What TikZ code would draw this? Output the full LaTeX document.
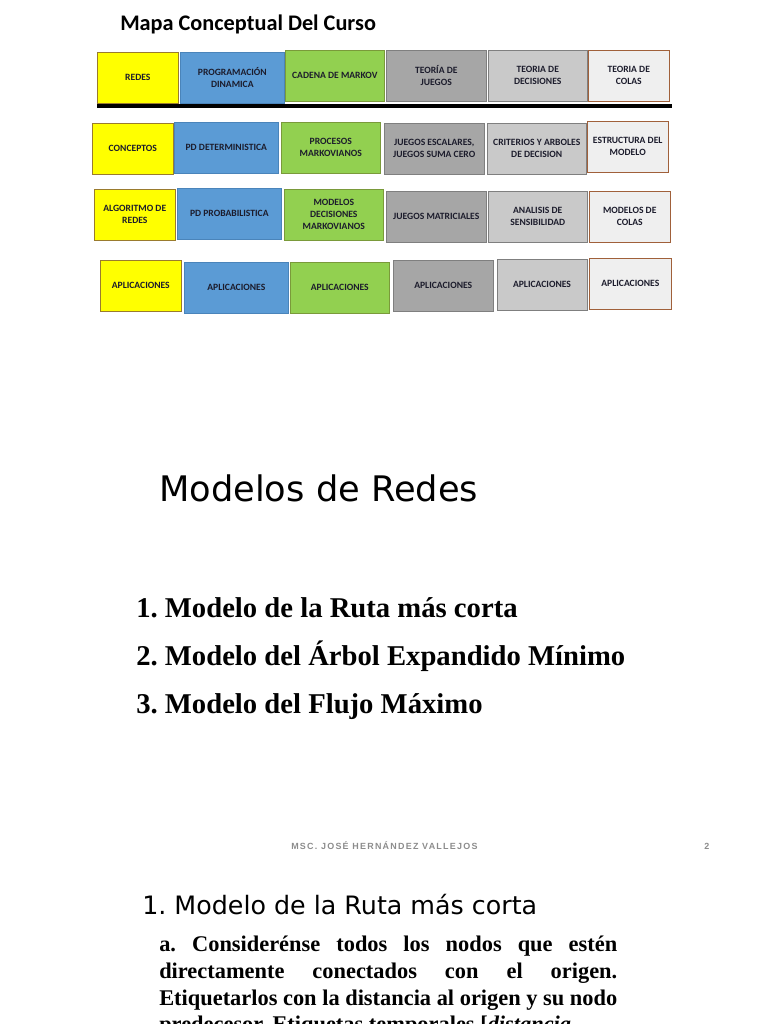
\documentclass[tikz,border=0pt]{standalone}
\usepackage{fontspec}
\usepackage{xcolor}
\usepackage{tikz}
\usetikzlibrary{positioning}
\newfontfamily\fcalibri{Carlito}
\newfontfamily\fdejavu{DejaVu Sans}
\newfontfamily\fserif{Liberation Serif}
\newfontfamily\fpie[LetterSpace=14]{Liberation Sans}
\definecolor{cmamarillo}{HTML}{FFFF00}
\definecolor{cmazul}{HTML}{5B9BD5}
\definecolor{cmverde}{HTML}{92D050}
\definecolor{cmgris}{HTML}{A6A6A6}
\definecolor{cmgrisclaro}{HTML}{C9C9C9}
\definecolor{cmblanco}{HTML}{EFEFEF}
\definecolor{cmbamarillo}{HTML}{9A7B2E}
\definecolor{cmbazul}{HTML}{4A84BA}
\definecolor{cmbverde}{HTML}{7A9A3A}
\definecolor{cmbgris}{HTML}{7F7F7F}
\definecolor{cmmarron}{HTML}{A0603A}
\definecolor{cmtexto}{HTML}{1C1C2C}
\definecolor{cmpie}{HTML}{8C8C8C}
\frenchspacing

\begin{document}
\begin{tikzpicture}[
  x=0.75pt, y=-0.75pt,
  celda/.style={
    rectangle, fill=#1, minimum height=38.5pt, inner sep=2pt, outer sep=0pt,
    line width=0.6pt, align=center, text=cmtexto,
    font=\fcalibri\bfseries\fontsize{7.2}{9}\selectfont
  },
  colredes/.style={celda=cmamarillo, draw=cmbamarillo, minimum width=61.2pt},
  colpd/.style={celda=cmazul, draw=cmbazul, minimum width=77.6pt},
  colmarkov/.style={celda=cmverde, draw=cmbverde, minimum width=74.6pt},
  coljuegos/.style={celda=cmgris, draw=cmbgris, minimum width=74.6pt},
  coldecision/.style={celda=cmgrisclaro, draw=cmbgris, minimum width=74.6pt},
  colcolas/.style={celda=cmblanco, draw=cmmarron, minimum width=60.4pt},
  regla/.style={line width=3pt, black},
  listado/.style={anchor=base west, inner sep=0pt, font=\fserif\bfseries\fontsize{21.5}{25}\selectfont},
]
\useasboundingbox (0,0) rectangle (768,1024);
\clip (0,0) rectangle (768,1024);

% Titulo
\node[anchor=base west, inner sep=0pt, font=\fcalibri\bfseries\fontsize{16.7}{20}\selectfont]
  (titulo) at (120,31) {Mapa Conceptual Del Curso};

% Fila 1: areas del curso
\node[colredes, anchor=north west] (redes) at (97,52) {REDES};
\node[colpd, right=1.5pt of redes] (progdin) {PROGRAMACIÓN\\DINAMICA};
\node[colmarkov, right=0.75pt of progdin, yshift=1.5pt] (markov) {CADENA DE MARKOV};
\node[coljuegos, right=1.5pt of markov] (juegos) {TEORÍA DE\\JUEGOS};
\node[coldecision, right=1.5pt of juegos] (decisiones) {TEORIA DE\\DECISIONES};
\node[colcolas, right=0.75pt of decisiones] (colas) {TEORIA DE\\COLAS};

\draw[regla] (97,105.5) -- (672,105.5);

% Fila 2
\node[colredes, anchor=north west] (conceptos) at (92,123) {CONCEPTOS};
\node[colpd, right=0.75pt of conceptos, yshift=0.75pt] (pddet) {PD DETERMINISTICA};
\node[colmarkov, right=2.25pt of pddet] (procesos) {PROCESOS\\MARKOVIANOS};
\node[coljuegos, right=3pt of procesos, yshift=-0.75pt] (escalares) {JUEGOS ESCALARES,\\JUEGOS SUMA CERO};
\node[coldecision, right=2.25pt of escalares] (criterios) {CRITERIOS Y ARBOLES\\DE DECISION};
\node[colcolas, right=0.75pt of criterios, yshift=1.5pt] (estructura) {ESTRUCTURA DEL\\MODELO};

% Fila 3
\node[colredes, anchor=north west] (algoritmo) at (94,189) {ALGORITMO DE\\REDES};
\node[colpd, right=1.5pt of algoritmo, yshift=0.75pt] (pdprob) {PD PROBABILISTICA};
\node[colmarkov, right=2.25pt of pdprob, yshift=-0.75pt] (decmarkov) {MODELOS\\DECISIONES\\MARKOVIANOS};
\node[coljuegos, right=2.25pt of decmarkov, yshift=-1.5pt] (matriciales) {JUEGOS MATRICIALES};
\node[coldecision, right=1.5pt of matriciales] (sensibilidad) {ANALISIS DE\\SENSIBILIDAD};
\node[colcolas, right=1.5pt of sensibilidad] (modcolas) {MODELOS DE\\COLAS};

% Fila 4: aplicaciones
\node[colredes, anchor=north west] (aplredes) at (100,260) {APLICACIONES};
\node[colpd, right=2.25pt of aplredes, yshift=-1.5pt] (aplpd) {APLICACIONES};
\node[colmarkov, right=1.5pt of aplpd] (aplmarkov) {APLICACIONES};
\node[coljuegos, right=3pt of aplmarkov, yshift=1.5pt] (apljuegos) {APLICACIONES};
\node[coldecision, minimum width=67.5pt, right=3pt of apljuegos, yshift=0.75pt] (apldecision) {APLICACIONES};
\node[colcolas, minimum width=62pt, right=1.5pt of apldecision, yshift=0.75pt] (aplcolas) {APLICACIONES};

% Modelos de redes
\node[anchor=base west, inner sep=0pt, font=\fdejavu\fontsize{26.4}{31}\selectfont]
  (modelos) at (159,501) {Modelos de Redes};
\node[listado] (ruta) at (136,617) {1. Modelo de la Ruta más corta};
\node[listado] (arbol) at (136,665) {2. Modelo del Árbol Expandido Mínimo};
\node[listado] (flujo) at (136,713) {3. Modelo del Flujo Máximo};

% Pie de pagina
\node[anchor=base west, inner sep=0pt, text=cmpie, font=\fpie\bfseries\fontsize{6.7}{8}\selectfont]
  (autor) at (291,849) {MSC. JOSÉ HERNÁNDEZ VALLEJOS};
\node[anchor=base west, inner sep=0pt, text=cmpie, font=\fpie\bfseries\fontsize{6.7}{8}\selectfont]
  (pagina) at (704,849) {2};

% Ruta mas corta
\node[anchor=base west, inner sep=0pt, font=\fdejavu\fontsize{19}{22}\selectfont]
  (rutatit) at (142,914) {1. Modelo de la Ruta más corta};
\node[anchor=north west, inner sep=0pt, text width=343.5pt, align=justify,
  font=\fserif\bfseries\fontsize{16.8}{20}\selectfont] (paso) at (159,936) {%
  \parfillskip=0pt
  a. Considerénse todos los nodos que estén\linebreak
  directamente conectados con el origen.\linebreak
  Etiquetarlos con la distancia al origen y su nodo\linebreak
  predecesor. Etiquetas temporales [\textit{distancia,}};

\end{tikzpicture}
\end{document}
